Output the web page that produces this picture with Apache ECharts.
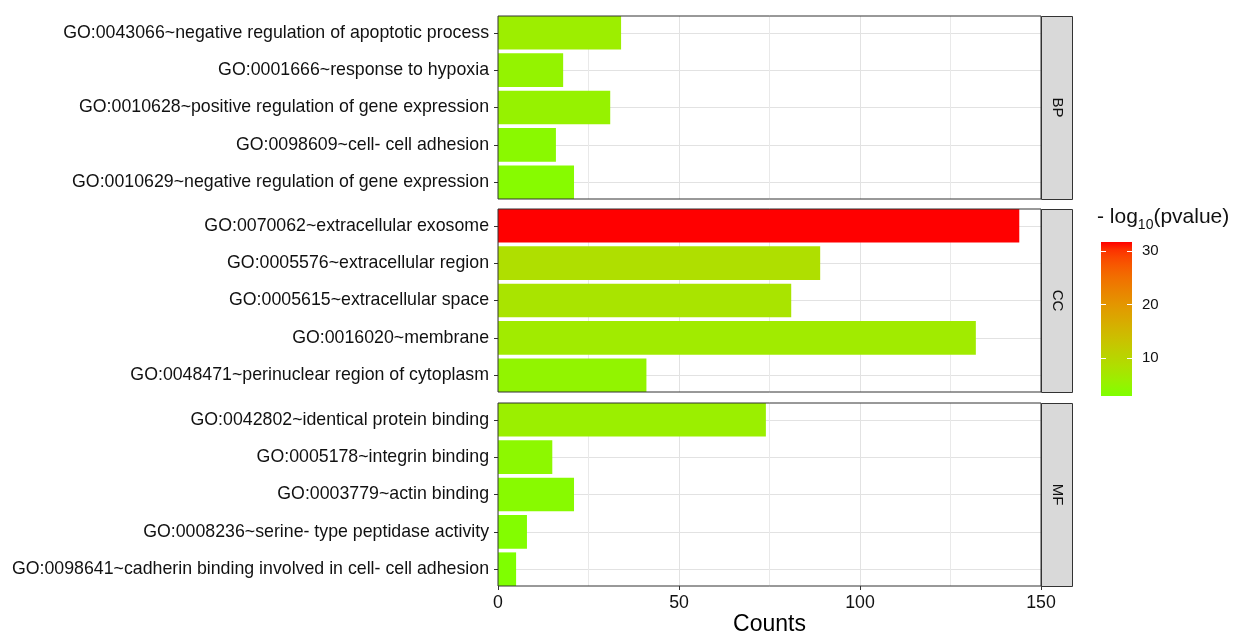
<!DOCTYPE html>
<html>
<head>
<meta charset="utf-8">
<title>GO enrichment</title>
<script src="https://cdn.jsdelivr.net/npm/echarts/dist/echarts.min.js"></script>
<style>
  html, body { margin: 0; padding: 0; background: #ffffff; }
  #chart { width: 1237px; height: 635px; }
</style>
</head>
<body>
<div id="chart"></div>
<script>
// ---- data ----
const panelNames = ['BP', 'CC', 'MF'];

const termsBP = [
  'GO:0043066~negative regulation of apoptotic process',
  'GO:0001666~response to hypoxia',
  'GO:0010628~positive regulation of gene expression',
  'GO:0098609~cell- cell adhesion',
  'GO:0010629~negative regulation of gene expression'
];
const countsBP = [34, 18, 31, 16, 21];
const logpBP = [6.0, 5.0, 5.2, 4.0, 3.7];

const termsCC = [
  'GO:0070062~extracellular exosome',
  'GO:0005576~extracellular region',
  'GO:0005615~extracellular space',
  'GO:0016020~membrane',
  'GO:0048471~perinuclear region of cytoplasm'
];
const countsCC = [144, 89, 81, 132, 41];
const logpCC = [31.7, 8.5, 7.6, 6.5, 4.8];

const termsMF = [
  'GO:0042802~identical protein binding',
  'GO:0005178~integrin binding',
  'GO:0003779~actin binding',
  'GO:0008236~serine- type peptidase activity',
  'GO:0098641~cadherin binding involved in cell- cell adhesion'
];
const countsMF = [74, 15, 21, 8, 5];
const logpMF = [5.8, 4.2, 3.8, 3.3, 2.9];

const countTicks = [0, 50, 100, 150];
const legendTicks = [10, 20, 30];
const logpMin = 2.9;
const logpMax = 31.7;

// ---- colour scale: chartreuse -> red, interpolated in CIE Lab ----
const lowColor = '#7FFF00';
const highColor = '#FF0000';

function toLinear(c) { c /= 255; return c <= 0.04045 ? c / 12.92 : Math.pow((c + 0.055) / 1.055, 2.4); }
function toSrgb(c) {
  const v = c <= 0.0031308 ? 12.92 * c : 1.055 * Math.pow(c, 1 / 2.4) - 0.055;
  return Math.round(Math.max(0, Math.min(1, v)) * 255);
}
function hexToLab(hex) {
  const r = toLinear(parseInt(hex.slice(1, 3), 16));
  const g = toLinear(parseInt(hex.slice(3, 5), 16));
  const b = toLinear(parseInt(hex.slice(5, 7), 16));
  const X = (0.4124564 * r + 0.3575761 * g + 0.1804375 * b) / 0.95047;
  const Y = (0.2126729 * r + 0.7151522 * g + 0.0721750 * b);
  const Z = (0.0193339 * r + 0.1191920 * g + 0.9503041 * b) / 1.08883;
  const f = t => t > 0.008856 ? Math.cbrt(t) : (7.787 * t + 16 / 116);
  return [116 * f(Y) - 16, 500 * (f(X) - f(Y)), 200 * (f(Y) - f(Z))];
}
function labToHex(lab) {
  const fy = (lab[0] + 16) / 116, fx = fy + lab[1] / 500, fz = fy - lab[2] / 200;
  const inv = t => (t * t * t > 0.008856 ? t * t * t : (t - 16 / 116) / 7.787);
  const X = inv(fx) * 0.95047, Y = inv(fy), Z = inv(fz) * 1.08883;
  const r = 3.2404542 * X - 1.5371385 * Y - 0.4985314 * Z;
  const g = -0.9692660 * X + 1.8760108 * Y + 0.0415560 * Z;
  const b = 0.0556434 * X - 0.2040259 * Y + 1.0572252 * Z;
  return '#' + [r, g, b].map(v => toSrgb(v).toString(16).padStart(2, '0')).join('');
}
const labLow = hexToLab(lowColor), labHigh = hexToLab(highColor);
const rampStops = [];
for (let i = 0; i <= 20; i++) {
  const t = i / 20;
  rampStops.push(labToHex(labLow.map((v, k) => v + (labHigh[k] - v) * t)));
}

// ---- layout ----
const plotLeft = 498, plotWidth = 543;
const panelBoxes = [
  { top: 16, height: 183 },
  { top: 209, height: 183 },
  { top: 403, height: 183 }
];
// bars are 0.9 of a band and touch the panel edges, so each band grid
// sticks out of its frame by half of the 10% gap
const barFraction = 0.9;
const stripWidth = 31;
const legendBox = { left: 1101, top: 242, width: 31, height: 154 };

const termLists = [termsBP, termsCC, termsMF];
const countLists = [countsBP, countsCC, countsMF];
const logpLists = [logpBP, logpCC, logpMF];

const textColor = '#111111';
const gridColor = '#e2e2e2';
const fontFamily = '"Liberation Sans", Arial, sans-serif';
const axisFont = 17.75;

const grids = [];
const xAxes = [];
const yAxes = [];

// frame grids: border, vertical grid lines, count axis
panelBoxes.forEach((b, i) => {
  grids.push({
    left: plotLeft, top: b.top, width: plotWidth, height: b.height,
    outerBoundsMode: 'none', containLabel: false,
    show: true, borderColor: '#333333', borderWidth: 1, backgroundColor: 'transparent', z: 3
  });
  xAxes.push({
    type: 'value', gridIndex: i, min: countTicks[0], max: countTicks[countTicks.length - 1], interval: 50,
    axisLine: { show: false },
    axisTick: { show: i === 2, length: 4, lineStyle: { color: '#333333', width: 1 } },
    axisLabel: { show: i === 2, fontSize: axisFont, color: textColor, fontFamily: fontFamily, margin: 8 },
    splitLine: { show: true, lineStyle: { color: gridColor, width: 1 } },
    minorTick: { show: false, splitNumber: 2 },
    minorSplitLine: { show: true, lineStyle: { color: '#e9e9e9', width: 1 } },
    name: i === 2 ? 'Counts' : '',
    nameLocation: 'middle', nameGap: 27,
    nameTextStyle: { fontSize: 23, color: '#000000', fontFamily: fontFamily }
  });
  yAxes.push({ type: 'value', gridIndex: i, show: false, min: 0, max: 1 });
});

// band grids: bars, term labels, horizontal grid lines
panelBoxes.forEach((b, i) => {
  const n = termLists[i].length;
  const band = b.height / (n - (1 - barFraction));
  const overhang = band * (1 - barFraction) / 2;
  grids.push({
    left: plotLeft, top: b.top - overhang, width: plotWidth, height: band * n,
    outerBoundsMode: 'none', containLabel: false, show: false
  });
  xAxes.push({
    type: 'value', gridIndex: 3 + i, show: false,
    min: countTicks[0], max: countTicks[countTicks.length - 1],
    splitLine: { show: false }
  });
  yAxes.push({
    type: 'category', gridIndex: 3 + i, data: termLists[i], inverse: true,
    axisLine: { show: false },
    axisTick: { show: true, alignWithLabel: true, length: 4, lineStyle: { color: '#333333', width: 1 } },
    axisLabel: { fontSize: axisFont, color: textColor, fontFamily: fontFamily, margin: 9, padding: [2, 0, 0, 0] },
    splitLine: { show: true, alignWithLabel: true, lineStyle: { color: gridColor, width: 1 } }
  });
});

// colour bar grid
grids.push({
  left: legendBox.left, top: legendBox.top, width: legendBox.width, height: legendBox.height,
  outerBoundsMode: 'none', containLabel: false, show: false
});
xAxes.push({ type: 'value', gridIndex: 6, show: false, min: 0, max: 1 });
yAxes.push({
  type: 'value', gridIndex: 6, position: 'left', min: logpMin, max: logpMax, z: 10,
  axisLine: { show: false }, splitLine: { show: false },
  axisTick: { show: true, inside: true, length: 5, customValues: legendTicks, lineStyle: { color: '#ffffff', width: 1 } },
  axisLabel: { show: false }
});
yAxes.push({
  type: 'value', gridIndex: 6, position: 'right', min: logpMin, max: logpMax, z: 10,
  axisLine: { show: false }, splitLine: { show: false },
  axisTick: { show: true, inside: true, length: 5, customValues: legendTicks, lineStyle: { color: '#ffffff', width: 1 } },
  axisLabel: { show: true, customValues: legendTicks, fontSize: 15, color: textColor, fontFamily: fontFamily, margin: 10 }
});

const series = termLists.map((terms, i) => ({
  type: 'bar', xAxisIndex: 3 + i, yAxisIndex: 3 + i,
  barCategoryGap: '10%',
  encode: { x: 0, y: 1 },
  data: terms.map((t, j) => [countLists[i][j], t, logpLists[i][j]]),
  z: 2
}));

// facet strips on the right side of each panel
const graphics = [];
panelBoxes.forEach((b, i) => {
  graphics.push({
    type: 'rect', z: 5,
    shape: { x: plotLeft + plotWidth + 0.5, y: b.top + 0.5, width: stripWidth, height: b.height },
    style: { fill: '#d9d9d9', stroke: '#333333', lineWidth: 1 }
  });
  graphics.push({
    type: 'text', z: 6,
    x: plotLeft + plotWidth + 0.5 + stripWidth / 2, y: b.top + b.height / 2,
    rotation: -Math.PI / 2,
    style: { text: panelNames[i], fill: textColor, font: '15px ' + fontFamily, align: 'center', verticalAlign: 'middle' }
  });
});
// colour bar
graphics.push({
  type: 'rect', z: 1,
  shape: { x: legendBox.left, y: legendBox.top, width: legendBox.width, height: legendBox.height },
  style: {
    fill: {
      type: 'linear', x: 0, y: 1, x2: 0, y2: 0,
      colorStops: rampStops.map((c, k) => ({ offset: k / (rampStops.length - 1), color: c }))
    }
  }
});
// colour bar title
graphics.push({
  type: 'text', z: 6, x: 1097, y: 217,
  style: {
    text: '{a|- log}{s|10}{a|(pvalue)}',
    verticalAlign: 'middle', align: 'left',
    rich: {
      a: { fontSize: 21, fill: textColor, fontFamily: fontFamily, verticalAlign: 'middle' },
      s: { fontSize: 14, fill: textColor, fontFamily: fontFamily, verticalAlign: 'bottom', padding: [0, 0, -5, 0] }
    }
  }
});

const chart = echarts.init(document.getElementById('chart'), null, { renderer: 'canvas' });
chart.setOption({
  backgroundColor: '#ffffff',
  animation: false,
  grid: grids,
  xAxis: xAxes,
  yAxis: yAxes,
  visualMap: {
    type: 'continuous', show: false, min: logpMin, max: logpMax,
    dimension: 2, seriesIndex: [0, 1, 2],
    inRange: { color: rampStops }
  },
  series: series,
  graphic: graphics
});
</script>
</body>
</html>
